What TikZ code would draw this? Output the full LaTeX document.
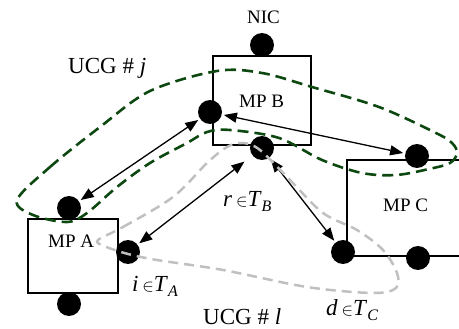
\documentclass[tikz,border=0pt]{standalone}
\usepackage{fontspec}
\setmainfont{Liberation Serif}
\usetikzlibrary{arrows.meta}
\definecolor{ucgj}{RGB}{12,72,16}
\definecolor{ucgl}{RGB}{192,192,192}
\newcommand\elab[2]{\textit{#1}\,{\fontsize{18}{18}\selectfont$\in$}\textit{T}\raisebox{-5pt}{\fontsize{16}{16}\selectfont\textit{#2}}}
\tikzset{
  dot/.style={circle,fill=black,inner sep=0pt,minimum size=24pt},
  mpbox/.style={draw=black,line width=2.3pt},
  biarrow/.style={line width=1.3pt,{Triangle[length=13pt,width=10pt]}-{Triangle[length=13pt,width=10pt]},shorten <=2pt,shorten >=2pt},
  txt/.style={inner sep=0pt,anchor=base west,font=\fontsize{19}{22}\selectfont},
  mtxt/.style={inner sep=0pt,anchor=base west,font=\fontsize{23}{26}\selectfont},
  utxt/.style={inner sep=0pt,anchor=base west,font=\fontsize{23}{27}\selectfont},
  gloop/.style={draw=ucgj,line width=2.6pt,dash pattern=on 11pt off 6pt},
  lloop/.style={draw=ucgl,line width=2.5pt,dash pattern=on 10pt off 6pt}
}
\begin{document}
\begin{tikzpicture}[x=1pt,y=-1pt]
\useasboundingbox (0,0) rectangle (459,329);
% boxes
\draw[mpbox] (213,56) rectangle (311,145);
\draw[mpbox] (28,219) rectangle (118,293);
\draw[mpbox] (459,160) -- (347,160) -- (347,256) -- (459,256);
% box labels
\node[txt] (nic) at (247,24) {NIC};
\node[txt] (mpb) at (239,108) {MP B};
\node[txt] (mpa) at (48,248) {MP A};
\node[txt] (mpc) at (383,212) {MP C};
% dots
\node[dot] (bn) at (262,45) {};
\node[dot] (bl) at (210,112) {};
\node[dot] (bb) at (262,148) {};
\node[dot] (at) at (69,208) {};
\node[dot] (ar) at (128,252) {};
\node[dot] (ab) at (69,304) {};
\node[dot] (ct) at (417,156) {};
\node[dot] (cc) at (343,252) {};
\node[dot] (cb) at (418,258) {};
% arrows
\draw[biarrow] (at) -- (bl);
\draw[biarrow] (bl) -- (ct);
\draw[biarrow,shorten >=10pt] (ar) -- (bb);
\draw[biarrow] (bb) -- (cc);
% UCG j loop
\draw[gloop] plot[smooth cycle,tension=0.55] coordinates {
 (17,200) (50,167) (100,127) (150,91) (217,71) (262,73) (312,87) (379,107)
 (436,133) (452,143) (457,153) (450,163) (429,169) (396,175) (362,173)
 (322,160) (279,138) (230,130) (207,132) (187,143) (150,163) (117,187)
 (87,213) (67,222) (33,215)};
% UCG l loop
\draw[lloop] plot[smooth cycle,tension=0.55] coordinates {
 (98,240) (123,227) (173,197) (207,163) (227,147) (243,143) (260,150)
 (290,180) (323,213) (357,230) (383,250) (397,273) (396,288) (373,293)
 (307,287) (223,270) (157,260) (128,254) (104,246)};
% labels
\node[utxt] (ucgj) at (68,74) {UCG \# \textit{j}};
\node[utxt] (ucgl) at (203,324) {UCG \# \textit{l}};
\node[mtxt] (li) at (132,292) {\elab{i}{A}};
\node[mtxt] (lr) at (223,207) {\elab{r}{B}};
\node[mtxt] (ld) at (326,316) {\elab{d}{C}};
\end{tikzpicture}
\end{document}
